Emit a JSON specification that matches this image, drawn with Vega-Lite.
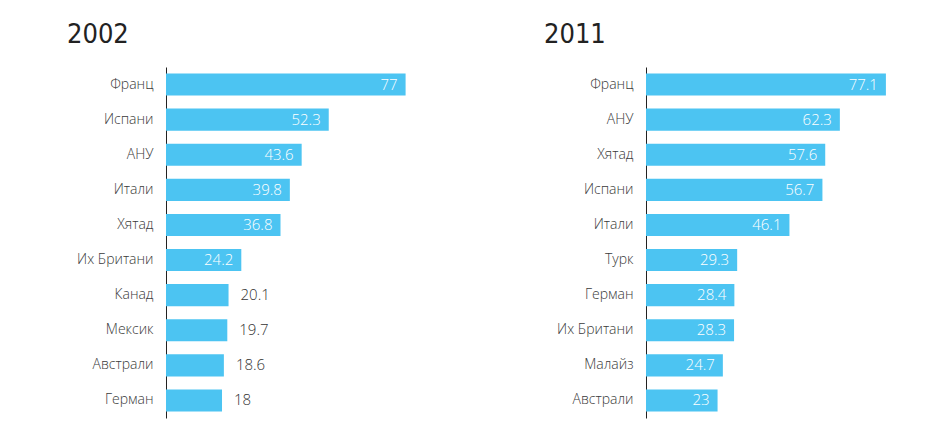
{
  "$schema": "https://vega.github.io/schema/vega-lite/v6.json",
  "background": "white",
  "padding": {"left": 66, "top": 21, "right": 5, "bottom": 5},
  "spacing": 88,
  "datasets": {
    "y2002": [
      {"country": "Франц", "value": 77},
      {"country": "Испани", "value": 52.3},
      {"country": "АНУ", "value": 43.6},
      {"country": "Итали", "value": 39.8},
      {"country": "Хятад", "value": 36.8},
      {"country": "Их Британи", "value": 24.2},
      {"country": "Канад", "value": 20.1},
      {"country": "Мексик", "value": 19.7},
      {"country": "Австрали", "value": 18.6},
      {"country": "Герман", "value": 18}
    ],
    "y2011": [
      {"country": "Франц", "value": 77.1},
      {"country": "АНУ", "value": 62.3},
      {"country": "Хятад", "value": 57.6},
      {"country": "Испани", "value": 56.7},
      {"country": "Итали", "value": 46.1},
      {"country": "Турк", "value": 29.3},
      {"country": "Герман", "value": 28.4},
      {"country": "Их Британи", "value": 28.3},
      {"country": "Малайз", "value": 24.7},
      {"country": "Австрали", "value": 23}
    ]
  },
  "config": {
    "view": {"stroke": null},
    "font": "Open Sans",
    "title": {"font": "DejaVu Sans Condensed", "fontSize": 27, "fontWeight": "normal", "color": "#222222", "anchor": "start", "frame": "group", "offset": 18},
    "axisY": {"minExtent": 100, "maxExtent": 100}
  },
  "hconcat": [
    {
      "title": {"text": "2002", "dx": -99},
      "width": 290,
      "height": 351,
      "data": {"name": "y2002"},
      "encoding": {
        "y": {"field": "country", "type": "nominal",
              "sort": ["Франц", "Испани", "АНУ", "Итали", "Хятад", "Их Британи", "Канад", "Мексик", "Австрали", "Герман"],
              "scale": {"paddingInner": 0.37, "paddingOuter": 0.185},
              "axis": {"title": null, "ticks": false, "labelPadding": 13, "labelFontSize": 14, "labelFontWeight": 300, "labelColor": "#3a3a3a", "domainColor": "#222222", "labelFont": "Open Sans"}},
        "x": {"field": "value", "type": "quantitative", "scale": {"domain": [0, 93.2]}, "axis": null}
      },
      "layer": [
        {"mark": {"type": "bar", "color": "#4CC4F2"}},
        {"transform": [{"filter": "datum.value >= 22"}],
         "mark": {"type": "text", "align": "right", "dx": -8, "color": "white", "fontSize": 15, "fontWeight": 300, "font": "Open Sans"},
         "encoding": {"text": {"field": "value", "type": "quantitative"}}},
        {"transform": [{"filter": "datum.value < 22"}],
         "mark": {"type": "text", "align": "left", "dx": 12, "color": "#333333", "fontSize": 15, "fontWeight": 300, "font": "Open Sans"},
         "encoding": {"text": {"field": "value", "type": "quantitative"}}}
      ]
    },
    {
      "title": {"text": "2011", "dx": -102},
      "width": 290,
      "height": 351,
      "data": {"name": "y2011"},
      "encoding": {
        "y": {"field": "country", "type": "nominal",
              "sort": ["Франц", "АНУ", "Хятад", "Испани", "Итали", "Турк", "Герман", "Их Британи", "Малайз", "Австрали"],
              "scale": {"paddingInner": 0.37, "paddingOuter": 0.185},
              "axis": {"title": null, "ticks": false, "labelPadding": 13, "labelFontSize": 14, "labelFontWeight": 300, "labelColor": "#3a3a3a", "domainColor": "#222222", "labelFont": "Open Sans"}},
        "x": {"field": "value", "type": "quantitative", "scale": {"domain": [0, 93.2]}, "axis": null}
      },
      "layer": [
        {"mark": {"type": "bar", "color": "#4CC4F2"}},
        {"mark": {"type": "text", "align": "right", "dx": -8, "color": "white", "fontSize": 15, "fontWeight": 300, "font": "Open Sans"},
         "encoding": {"text": {"field": "value", "type": "quantitative"}}}
      ]
    }
  ]
}
